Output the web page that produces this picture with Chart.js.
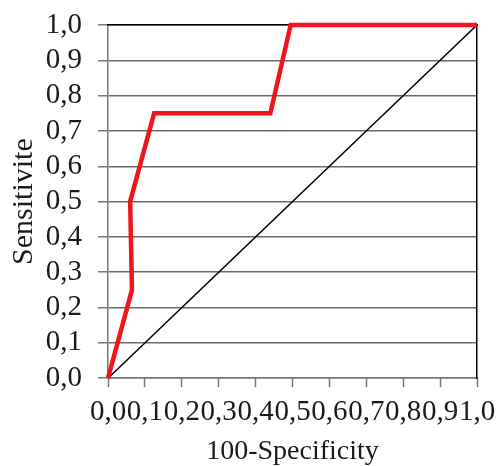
<!DOCTYPE html>
<html>
<head>
<meta charset="utf-8">
<script src="https://cdn.jsdelivr.net/npm/chart.js@4.4.0/dist/chart.umd.min.js"></script>
<style>
  html, body { margin: 0; padding: 0; background: #fff; }
  #wrap { width: 497px; height: 466px; }
</style>
</head>
<body>
<div id="wrap"><canvas id="myChart"></canvas></div>
<script>
// datos de la curva ROC
const fpr = [0, 0.065, 0.06, 0.125, 0.44, 0.495, 1.0];
const tpr = [0, 0.25, 0.5, 0.75, 0.75, 1.0, 1.0];
// linea de referencia
const refX = [0, 1];
const refY = [0, 1];
// etiquetas de los ejes
const tickLabels = ['0,0', '0,1', '0,2', '0,3', '0,4', '0,5', '0,6', '0,7', '0,8', '0,9', '1,0'];
const xTitle = '100-Specificity';
const yTitle = 'Sensitivite';

const toPts = (xs, ys) => xs.map((x, i) => ({ x: x, y: ys[i] }));
const lbl = (v) => tickLabels[Math.round(v * 10)];

const serif = 'Liberation Serif';

var ctx = document.getElementById('myChart').getContext('2d');
var myChart = new Chart(ctx, {
    type: 'scatter',
    data: {
        datasets: [{
            label: 'ROC',
            data: toPts(fpr, tpr),
            showLine: true,
            borderColor: 'rgb(240, 20, 30)',
            borderWidth: 4.5,
            pointRadius: 0,
            tension: 0,
            clip: false,
            order: 0
        },
        {
            label: 'ref',
            data: toPts(refX, refY),
            showLine: true,
            borderColor: '#000',
            borderWidth: 1.5,
            pointRadius: 0,
            order: 1
        }]
    },
    options: {
        responsive: true,
        maintainAspectRatio: false,
        animation: false,
        layout: {
            padding: { left: 4, right: 20, top: 25, bottom: 0 }
        },
        plugins: {
            legend: { display: false },
            tooltip: { enabled: false }
        },
        scales: {
            x: {
                type: 'linear',
                min: 0,
                max: 1,
                position: 'bottom',
                afterFit: (s) => { s.paddingLeft = 0; s.paddingRight = 0; },
                border: { color: '#777', width: 1.5 },
                grid: { drawOnChartArea: false, drawTicks: true, tickLength: 9, tickColor: '#777', tickWidth: 1.5 },
                ticks: {
                    stepSize: 0.1,
                    autoSkip: false,
                    maxRotation: 0,
                    minRotation: 0,
                    padding: 8,
                    color: '#1a1a1a',
                    font: { family: serif, size: 29 },
                    callback: (v) => lbl(v)
                },
                title: {
                    display: true,
                    text: xTitle,
                    color: '#1a1a1a',
                    padding: { top: 0, bottom: 0 },
                    font: { family: serif, size: 28, lineHeight: 1 }
                }
            },
            y: {
                type: 'linear',
                min: 0,
                max: 1,
                position: 'left',
                afterFit: (s) => { s.width = 104; s.paddingTop = 0; s.paddingBottom = 0; },
                border: { color: '#777', width: 1.5 },
                grid: { color: '#6a6a6a', lineWidth: 1.5, tickLength: 10, tickColor: '#777' },
                ticks: {
                    stepSize: 0.1,
                    autoSkip: false,
                    padding: 16,
                    color: '#1a1a1a',
                    font: { family: serif, size: 29 },
                    callback: (v) => lbl(v)
                },
                title: {
                    display: true,
                    text: yTitle,
                    color: '#1a1a1a',
                    padding: { top: 2, bottom: 2 },
                    font: { family: serif, size: 30 }
                }
            },
            x2: {
                type: 'linear',
                min: 0,
                max: 1,
                position: 'top',
                border: { color: '#000', width: 1.5 },
                grid: { display: false, drawTicks: false },
                ticks: { display: false }
            },
            y2: {
                type: 'linear',
                min: 0,
                max: 1,
                position: 'right',
                border: { color: '#000', width: 1.5 },
                grid: { display: false, drawTicks: false },
                ticks: { display: false }
            }
        }
    }
});
</script>
</body>
</html>
